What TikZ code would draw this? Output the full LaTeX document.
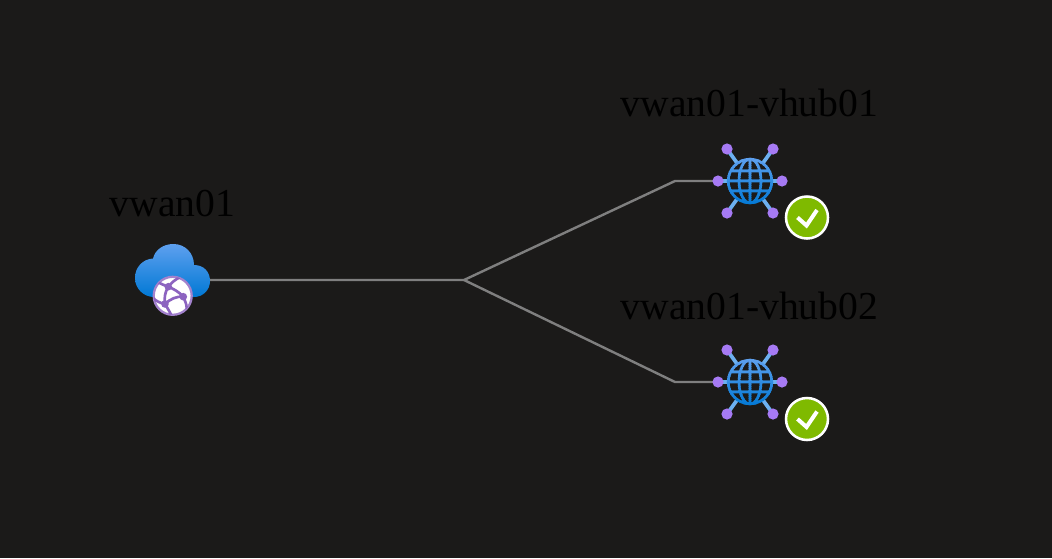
\documentclass[tikz,border=0pt]{standalone}
\usepackage{fontspec}
\setmainfont{Liberation Serif}
\definecolor{bgdark}{HTML}{1B1A19}
\definecolor{linkgrey}{HTML}{7F7F7F}
\definecolor{bluetop}{HTML}{5EA0EF}
\definecolor{bluebot}{HTML}{0078D4}
\definecolor{spokeblue}{HTML}{6CB0F0}
\definecolor{dotpurple}{HTML}{A67AF4}
\definecolor{netpurple}{HTML}{8C63C0}
\definecolor{okgreen}{HTML}{7FBA00}
\tikzset{
  x=0.75pt,y=-0.75pt,
  anchorbox/.style={inner sep=0pt,outer sep=0pt,minimum width=#1*0.75pt,minimum height=#1*0.75pt},
  link/.style={draw=linkgrey,line width=1.8pt},
  lbl/.style={text=black,font=\fontsize{29.7pt}{34pt}\selectfont,anchor=base,inner sep=0pt},
  pics/hubicon/.style={code={
    \foreach \a/\b in {-23/-32,23/-32,-32/0,32/0,-23/32,23/32}{
      \draw[spokeblue,line width=2.8pt] (0,0) -- (\a,\b);
      \fill[dotpurple] (\a,\b) circle[radius=5.6];
    }
    \fill[bgdark] (0,0) circle[radius=22];
    \foreach \i [evaluate=\i as \t using {100-100*(\i+24)/48}] in {-24,-22,...,22}{
      \begin{scope}
        \clip (-25,\i) rectangle (25,\i+2.1);
        \draw[bluetop!\t!bluebot,line width=2pt]
          (0,0) circle[radius=21.8]
          (-22,0) -- (22,0)
          (-20,-10) -- (20,-10)
          (-20,10) -- (20,10)
          (0,-22) -- (0,22)
          (0,0) ellipse[x radius=11,y radius=22];
      \end{scope}
    }
  }},
  pics/okbadge/.style={code={
    \fill[okgreen,draw=white,line width=1.9pt] (0,0) circle[radius=21];
    \draw[white,line width=3pt] (-9.5,0) -- (-0.5,8) -- (10,-7.5);
  }}
}
\begin{document}
\begin{tikzpicture}
\fill[bgdark] (0,0) rectangle (1052,558);
\useasboundingbox (0,0) rectangle (1052,558);
% layout nodes
\node[anchorbox=74] (cloud) at (173,280) {};
\node[anchorbox=64] (hubA) at (750,181) {};
\node[anchorbox=64] (hubB) at (750,382) {};
\coordinate (fork) at (464,280);
\coordinate (bendA) at (675,181);
\coordinate (bendB) at (675,382);
% connectors
\draw[link] (cloud.east) -- (fork) -- (bendA) -- (hubA.west);
\draw[link] (fork) -- (bendB) -- (hubB.west);
% cloud
\shade[top color=bluetop,bottom color=bluebot,shading angle=0]
  (154,297) -- (194,297)
  .. controls (203,297) and (210,290) .. (210,281)
  .. controls (210,272) and (204,265) .. (194,265)
  .. controls (194,253) and (185,244) .. (173.5,244)
  .. controls (163,244) and (155,250) .. (153,258.5)
  .. controls (143,259) and (135,267) .. (135,278)
  .. controls (135,289) and (144,297) .. (154,297) -- cycle;
% network globe
\node[circle,fill=white,draw=netpurple!80!white,line width=1.7pt,minimum size=28.5pt,inner sep=0pt] (globe) at (172.7,295.8) {};
\begin{scope}
  \clip (172.7,295.8) circle[radius=19];
  \draw[netpurple,line width=2pt]
    (168.3,286.7) .. controls (172,282) and (175,280) .. (180,277)
    (168.3,286.7) .. controls (174,289) and (179,292) .. (183.3,296.7)
    (183.3,296.7) .. controls (177,296) and (170,299) .. (165,304)
    (168.3,286.7) .. controls (165,292) and (164,298) .. (165,304)
    (168.3,286.7) .. controls (163,285) and (160,283) .. (157,282)
    (183.3,296.7) .. controls (186,303) and (187,306) .. (187,310)
    (165,304) .. controls (160,303) and (156,301) .. (153,298)
    (165,304) .. controls (168,309) and (170,312) .. (172,317);
  \fill[netpurple] (168.3,286.7) circle[radius=3.8] (183.3,296.7) circle[radius=3.8] (165,304) circle[radius=3.8];
\end{scope}
% hubs
\pic at (hubA) {hubicon};
\pic at (hubB) {hubicon};
\pic at (807,217.5) {okbadge};
\pic at (807,419) {okbadge};
% labels
\node[lbl] (lblcloud) at (172.5,216) {vwan01};
\node[lbl] (lblhubA) at (749.5,116) {vwan01-vhub01};
\node[lbl] (lblhubB) at (749.5,319) {vwan01-vhub02};
\end{tikzpicture}
\end{document}
